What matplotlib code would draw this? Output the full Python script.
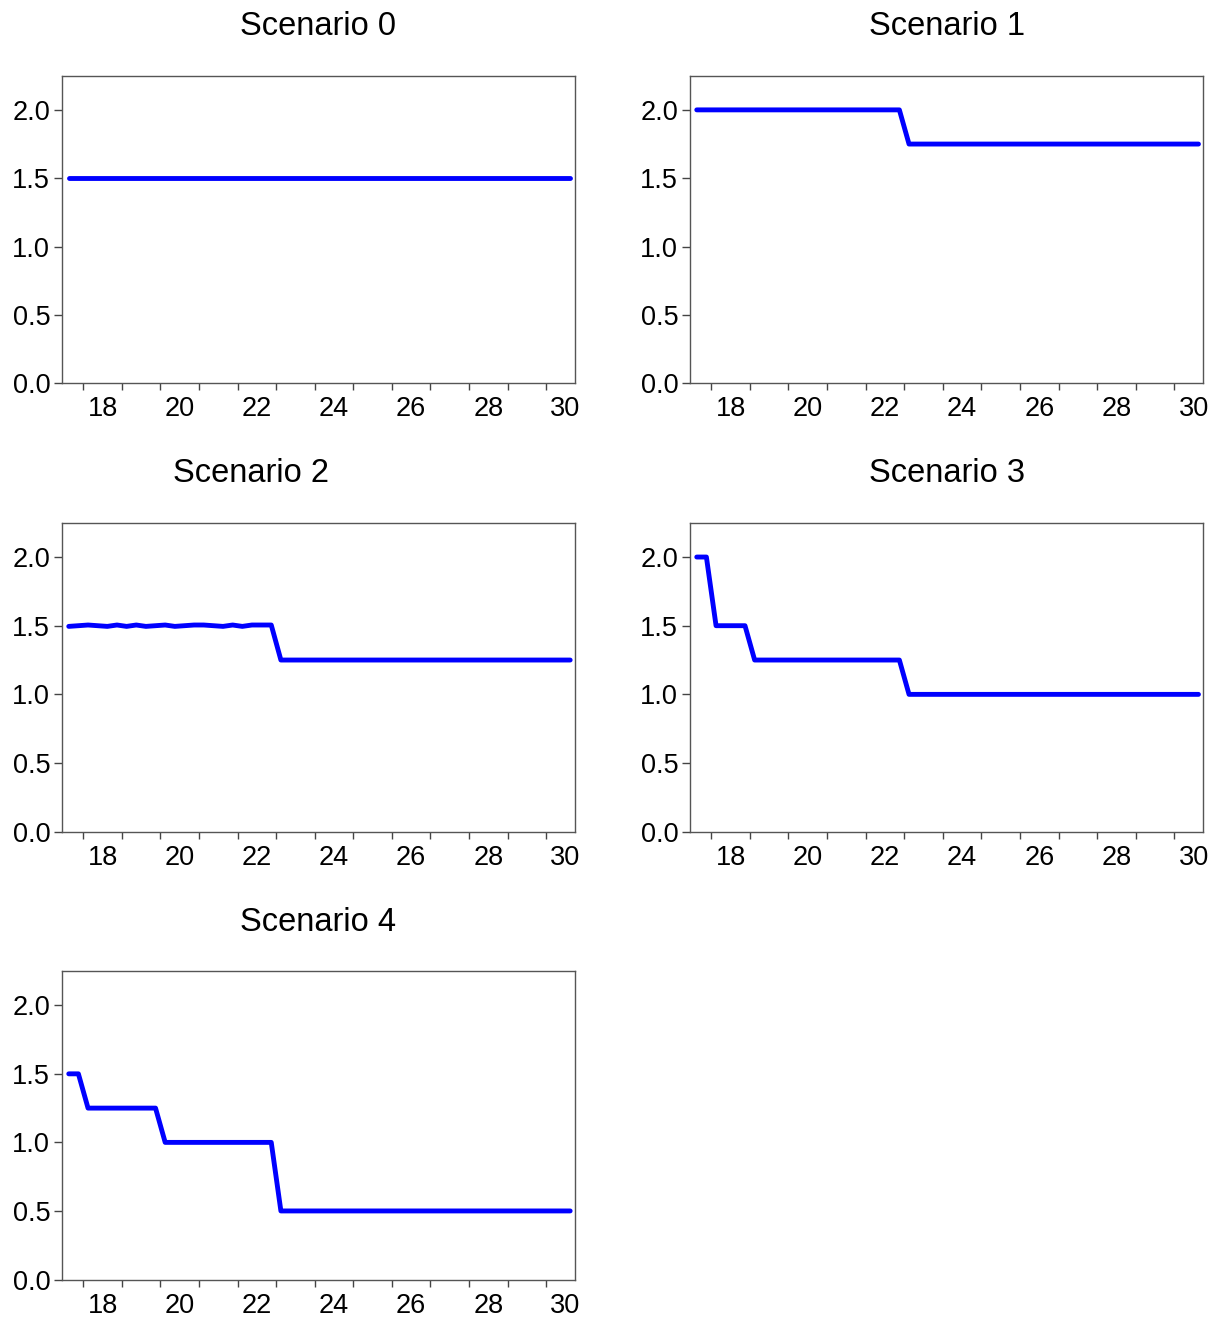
import matplotlib
matplotlib.use("Agg")
import matplotlib.pyplot as plt
import numpy as np

plt.rcParams["font.family"] = ["Liberation Sans", "DejaVu Sans"]

# quarterly observations 2017Q3 .. 2030Q3, plotted at mid-quarter
quarters = 2017.625 + 0.25 * np.arange(53)

scen0 = [1.5] * 53
scen1 = [2.0] * 22 + [1.75] * 31
scen2 = [1.495, 1.500, 1.505, 1.500, 1.495, 1.505, 1.495, 1.505, 1.495, 1.500,
         1.505, 1.495, 1.500, 1.505, 1.505, 1.500, 1.495, 1.505, 1.495, 1.505,
         1.505, 1.505] + [1.25] * 31
scen3 = [2.0] * 2 + [1.5] * 4 + [1.25] * 16 + [1.0] * 31
scen4 = [1.5] * 2 + [1.25] * 8 + [1.0] * 12 + [0.5] * 31

titles = ["Scenario 0", "Scenario 1", "Scenario 2", "Scenario 3", "Scenario 4"]
series = [scen0, scen1, scen2, scen3, scen4]

year_ticks = np.arange(2018, 2031)
label_pos = np.arange(2018.5, 2031, 2)
year_labels = [f"{int(y) % 100:02d}" for y in label_pos]
y_ticks = [0.0, 0.5, 1.0, 1.5, 2.0]

W, H = 1217, 1321
# axes boxes in pixels: left, top, right, bottom
boxes = [(62, 75.7, 575, 383.3), (690, 75.7, 1203.3, 383.3),
         (62, 522.7, 575, 831.7), (690, 522.7, 1203.3, 831.7),
         (62, 971, 575, 1279.5)]
title_x = [0.5, 0.5, 0.368, 0.5, 0.5]

fig = plt.figure(figsize=(W / 100, H / 100), dpi=100)
for box, name, vals, tx in zip(boxes, titles, series, title_x):
    l, t, r, b = box
    ax = fig.add_axes([l / W, 1 - b / H, (r - l) / W, (b - t) / H])
    ax.plot(quarters, vals, color="#0000ff", lw=3.5, solid_joinstyle="round",
            solid_capstyle="round")
    ax.set_xlim(2017.45, 2030.75)
    ax.set_ylim(0, 2.25)
    ax.set_yticks(y_ticks)
    ax.set_yticklabels([f"{v:.1f}" for v in y_ticks])
    ax.set_xticks(year_ticks)
    ax.set_xticklabels([])
    ax.set_xticks(label_pos, minor=True)
    ax.set_xticklabels(year_labels, minor=True)
    ax.tick_params(axis="x", which="major", direction="out", length=5,
                   width=1, color="#444")
    ax.tick_params(axis="x", which="minor", length=0, pad=9.5, labelsize=19.5)
    ax.tick_params(axis="y", direction="out", length=6, width=1,
                   color="#444", pad=2.5, labelsize=19.5)
    ax.tick_params(top=False, right=False)
    for sp in ax.spines.values():
        sp.set_color("#555")
        sp.set_linewidth(1.0)
    ax.set_title(name, fontsize=23.5, x=tx, pad=29)

fig.savefig("out.png", dpi=100)
